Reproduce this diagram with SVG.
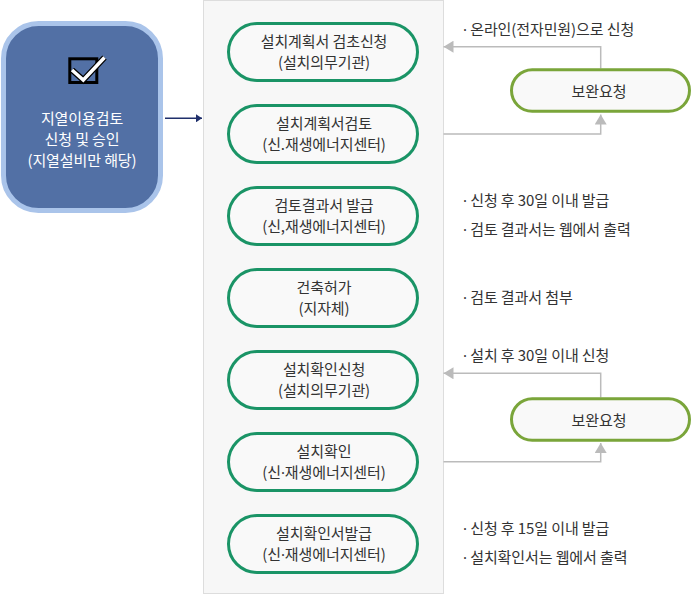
<svg xmlns="http://www.w3.org/2000/svg" width="691" height="595" viewBox="0 0 691 595">
<defs>
<style>
text{font-family:"Noto Sans CJK KR","Noto Sans",sans-serif;font-size:15px;letter-spacing:-0.1px;fill:#333}
.d{font-family:"Noto Sans",sans-serif}
.c{text-anchor:middle}
.w{fill:#fff}
.step{fill:#f9f9f9;stroke:#1a9466;stroke-width:3}
.sup{fill:#f9f9f9;stroke:#7aa53a;stroke-width:3}
.gl{fill:none;stroke:#bbb;stroke-width:1.5}
</style>
<marker id="ga" viewBox="0 0 10 12" refX="10" refY="6" markerWidth="10" markerHeight="12" markerUnits="userSpaceOnUse" orient="auto">
<path d="M0,0 L10,6 L0,12 Z" fill="#bbb"/>
</marker>
<marker id="na" viewBox="0 0 6 8" refX="6" refY="4" markerWidth="6" markerHeight="8" markerUnits="userSpaceOnUse" orient="auto">
<path d="M0,0 L6,4 L0,8 Z" fill="#1f2f6b"/>
</marker>
</defs>
<rect width="691" height="595" fill="#fff"/>
<rect x="203.5" y="0.5" width="240" height="593" fill="#f7f7f7" stroke="#ddd" stroke-width="1"/>

<g id="start">
<rect x="3.5" y="23.5" width="157" height="187" rx="35" fill="#5270a5" stroke="#aac4ea" stroke-width="5"/>
<rect x="69.8" y="58.8" width="27" height="23.7" fill="none" stroke="#000" stroke-width="3"/>
<polyline points="72,70 83.3,80 104.5,57.5" fill="none" stroke="#000" stroke-width="6"/>
<polyline points="72,70 83.3,80 104.5,57.5" fill="none" stroke="#fff" stroke-width="3.5"/>
<text class="c w" x="82" y="123.5">지열이용검토</text>
<text class="c w" x="82" y="144.5">신청 및 승인</text>
<text class="c w" x="82" y="165.5">(지열설비만 해당)</text>
</g>

<g id="connectors">
<line x1="165" y1="118.3" x2="202" y2="118.3" stroke="#1f2f6b" stroke-width="1.5" marker-end="url(#na)"/>
<polyline class="gl" points="600.7,68.5 600.7,46.7 443.5,46.7" marker-end="url(#ga)"/>
<polyline class="gl" points="443.5,134 600.7,134 600.7,114.5" marker-end="url(#ga)"/>
<polyline class="gl" points="600.7,397.5 600.7,373.3 443.5,373.3" marker-end="url(#ga)"/>
<polyline class="gl" points="443.5,461.7 600.7,461.7 600.7,443" marker-end="url(#ga)"/>
</g>

<g id="s1"><rect class="step" x="228.5" y="23.5" width="189" height="57" rx="28.5"/>
<text class="c" x="324" y="47">설치계획서 검초신청</text><text class="c" x="324" y="68">(설치의무기관)</text></g>
<g id="s2"><rect class="step" x="228.5" y="105.5" width="189" height="57" rx="28.5"/>
<text class="c" x="324" y="129">설치계획서검토</text><text class="c" x="324" y="150">(신.재생에너지센터)</text></g>
<g id="s3"><rect class="step" x="228.5" y="187.5" width="189" height="57" rx="28.5"/>
<text class="c" x="324" y="211">검토결과서 발급</text><text class="c" x="324" y="232">(신,재생에너지센터)</text></g>
<g id="s4"><rect class="step" x="228.5" y="269.5" width="189" height="57" rx="28.5"/>
<text class="c" x="324" y="293">건축허가</text><text class="c" x="324" y="314">(지자체)</text></g>
<g id="s5"><rect class="step" x="228.5" y="351.5" width="189" height="57" rx="28.5"/>
<text class="c" x="324" y="375">설치확인신청</text><text class="c" x="324" y="396">(설치의무기관)</text></g>
<g id="s6"><rect class="step" x="228.5" y="433.5" width="189" height="57" rx="28.5"/>
<text class="c" x="324" y="457">설치확인</text><text class="c" x="324" y="478">(신<tspan class="d">·</tspan>재생에너지센터)</text></g>
<g id="s7"><rect class="step" x="228.5" y="515.5" width="189" height="57" rx="28.5"/>
<text class="c" x="324" y="539">설치확인서발급</text><text class="c" x="324" y="560">(신<tspan class="d">·</tspan>재생에너지센터)</text></g>

<g id="sup1"><rect class="sup" x="511.5" y="69.8" width="178" height="41.5" rx="20.75"/>
<text class="c" x="599" y="96.5">보완요청</text></g>
<g id="sup2"><rect class="sup" x="511.5" y="398.8" width="178" height="41.5" rx="20.75"/>
<text class="c" x="599" y="425.5">보완요청</text></g>

<g id="notes">
<text x="463" y="34.5"><tspan class="d">·</tspan> 온라인(전자민원)으로 신청</text>
<text x="463" y="205.5"><tspan class="d">·</tspan> 신청 후 30일 이내 발급</text>
<text x="463" y="234.5"><tspan class="d">·</tspan> 검토 결과서는 웹에서 출력</text>
<text x="463" y="302.5"><tspan class="d">·</tspan> 검토 결과서 첨부</text>
<text x="463" y="360.5"><tspan class="d">·</tspan> 설치 후 30일 이내 신청</text>
<text x="463" y="533.5"><tspan class="d">·</tspan> 신청 후 15일 이내 발급</text>
<text x="463" y="562.5"><tspan class="d">·</tspan> 설치확인서는 웹에서 출력</text>
</g>
</svg>
